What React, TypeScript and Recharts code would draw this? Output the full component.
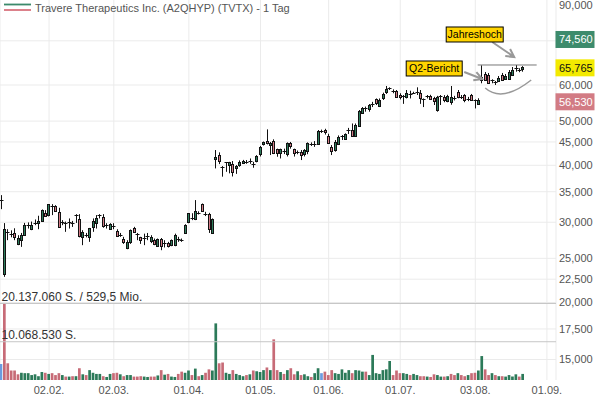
import React from 'react';
import {
  ComposedChart,
  Bar,
  Cell,
  XAxis,
  YAxis,
  CartesianGrid,
  ReferenceLine,
  ReferenceDot,
} from 'recharts';

// Tageskerzen ab 12.01. (Handelstage), Kurse in Punkten
const opens = [
  33550, 23120, 28500, 28300, 28420, 26880, 27440, 28100, 29540, 29100,
  29830, 29900, 30110, 31460, 31000, 32580, 32600, 31620, 29980, 29870,
  29930, 29830, 31000, 30430, 27870, 28120, 27870, 29310, 29850, 31030,
  30740, 29520, 29000, 29380, 28700, 28150, 27630, 26410, 27070, 29200,
  28180, 27790, 27610, 27940, 27300, 27400, 26720, 27630, 27000, 27070,
  26720, 26720, 27460, 27380, 28350, 29950, 30400, 30480, 31440, 32870,
  31180, 31250, 28350, 41140, 42120, 39600, 40300, 40040, 40220, 39450,
  40040, 40500, 40710, 40850, 40180, 40730, 42330, 44380, 45300, 44400,
  45300, 43350, 42500, 42940, 42330, 44680, 43350, 42680, 42850, 42330,
  42850, 44480, 44480, 44680, 47580, 47700, 46300, 43940, 43200, 44520,
  46300, 45700, 47650, 47790, 46350, 48770, 52310, 53230, 53100, 54480,
  55780, 54000, 56100, 57720, 58980, 58320, 58300, 57040, 56780, 56400,
  57330, 57700, 57970, 57550, 55760, 56780, 56800, 56060, 53000, 56580,
  56400, 55300, 55120, 56090, 57980, 56380, 57040, 55880, 57040, 55700,
  54500, 61530, 63430, 63110, 61350, 60900, 61230, 63110, 61750, 62060,
  63110, 65400, 64700, 64950,
];
const highs = [
  34400, 29870, 28960, 28800, 29100, 28100, 28420, 29900, 29970, 30100,
  30420, 31000, 32000, 31890, 32870, 32870, 32700, 32270, 30320, 30100,
  30580, 30200, 31250, 31250, 28820, 28420, 29150, 30580, 31100, 31250,
  31250, 29850, 29850, 29850, 28960, 28420, 27870, 27400, 28920, 29310,
  28420, 27870, 28320, 28420, 28100, 27630, 27630, 27700, 27400, 27170,
  27500, 28320, 27870, 27630, 29700, 31400, 31400, 33550, 31700, 32980,
  31620, 31460, 30580, 43200, 42700, 39840, 40600, 40700, 40870, 40040,
  41000, 41100, 41070, 41400, 40700, 42100, 44100, 45100, 47950, 45000,
  45600, 43500, 43500, 43500, 44900, 45000, 43500, 43100, 43200, 43400,
  44900, 44900, 45200, 47800, 47900, 48100, 46900, 44300, 45440, 46510,
  46600, 47000, 48310, 49400, 49400, 52880, 53670, 53800, 54500, 55100,
  56060, 56060, 57720, 59700, 59300, 58700, 58500, 57550, 57040, 58500,
  58300, 57990, 59300, 58500, 56060, 57040, 57100, 56530, 56800, 57040,
  57000, 57100, 59700, 56800, 58500, 57040, 57300, 56500, 57350, 55800,
  56110, 66290, 64080, 63760, 61750, 61230, 62780, 63760, 63430, 64720,
  65700, 66380, 65300, 66000,
];
const lows = [
  32050, 22770, 27400, 27800, 27400, 26720, 26490, 28050, 29060, 28820,
  29560, 28960, 30050, 30900, 30900, 31100, 31620, 29180, 29560, 28580,
  29060, 29300, 29900, 27790, 26720, 27790, 27170, 28580, 29060, 30580,
  29180, 29060, 28900, 28960, 27870, 27870, 26890, 26180, 26890, 28420,
  27400, 26890, 26720, 27400, 27000, 26720, 26580, 26050, 26410, 26410,
  26580, 26580, 27170, 27170, 28280, 29850, 30320, 30320, 31200, 31620,
  30950, 28420, 28280, 39370, 40240, 37760, 38700, 38400, 37800, 38300,
  39700, 40300, 40300, 40300, 39500, 40600, 41820, 44200, 44440, 42120,
  42330, 41760, 41400, 42330, 41820, 43500, 41800, 42300, 41070, 41820,
  42300, 44100, 43900, 44400, 47100, 46700, 44600, 42120, 42850, 44300,
  45440, 45510, 46860, 46340, 46300, 48600, 52160, 52430, 52430, 53670,
  54230, 53670, 55620, 57350, 58500, 57550, 56400, 55780, 54550, 56060,
  56060, 57350, 57040, 54550, 53670, 56060, 55900, 54230, 52430, 54230,
  55000, 55000, 54310, 55500, 56110, 55900, 55000, 55300, 55340, 53300,
  54310, 60520, 61230, 60520, 60520, 60000, 60920, 61230, 61530, 61840,
  62780, 64170, 64000, 64170,
];
const closes = [
  33500, 28960, 28550, 28250, 27790, 27640, 28100, 29560, 29580, 29630,
  29870, 30220, 31890, 30950, 32830, 32620, 31780, 29310, 30020, 29830,
  29970, 29870, 31100, 27870, 28580, 28080, 29150, 30170, 30580, 31070,
  29310, 29480, 29680, 29420, 28050, 28190, 27170, 27200, 28820, 28580,
  28220, 27400, 27650, 27980, 27870, 26890, 27630, 26720, 27040, 26620,
  27400, 28100, 27500, 27420, 29560, 31370, 30600, 31780, 31480, 31780,
  31220, 28920, 30430, 41610, 40770, 39560, 40600, 40620, 38710, 39900,
  40730, 40900, 40750, 40890, 40220, 41820, 43920, 44900, 44800, 44850,
  42600, 42550, 43350, 42980, 44680, 43920, 42500, 42720, 42120, 43200,
  44680, 44520, 44560, 47600, 47600, 47200, 44800, 43000, 45070, 46190,
  46340, 46860, 47700, 46350, 49020, 52620, 53520, 53290, 54230, 54520,
  54660, 55620, 57350, 58700, 59020, 58280, 56600, 56400, 56820, 57550,
  57370, 57740, 58010, 56060, 55800, 56820, 56060, 55120, 56530, 56620,
  55500, 56700, 56530, 56130, 56530, 56420, 55620, 55920, 55620, 55500,
  55620, 62380, 61530, 60700, 61410, 60940, 62310, 61530, 62780, 64190,
  64720, 65440, 64740, 65765,
];
// Volumen in Mio. Stück
const volumes = [
  4.2, 20.137, 4.4, 2.5, 2.5, 1.5, 1.9, 1.8, 1.8, 1.3,
  1.5, 1.0, 2.1, 1.9, 1.6, 1.8, 1.3, 1.8, 1.3, 0.9,
  0.9, 1.0, 1.0, 3.1, 1.5, 1.3, 2.6, 1.9, 1.6, 1.6,
  1.0, 0.8, 1.6, 1.8, 1.9, 1.5, 1.0, 1.3, 1.3, 0.9,
  0.9, 1.0, 0.9, 0.8, 0.9, 0.9, 1.2, 2.6, 1.4, 1.6,
  0.9, 0.8, 1.6, 2.2, 1.9, 2.5, 1.3, 3.0, 1.0, 1.3,
  1.9, 2.8, 2.5, 14.9, 4.4, 4.6, 1.9, 1.6, 2.6, 1.6,
  1.3, 1.0, 1.3, 1.5, 2.5, 2.3, 2.1, 2.6, 3.3, 2.6,
  10.7, 2.6, 2.1, 1.6, 2.6, 3.1, 1.5, 2.3, 1.3, 1.5,
  1.0, 0.8, 1.8, 3.1, 1.8, 2.2, 1.3, 2.6, 1.8, 1.6,
  2.8, 1.9, 2.6, 1.8, 2.6, 2.5, 2.2, 2.2, 1.3, 6.6,
  1.8, 1.6, 2.6, 2.8, 5.0, 1.3, 2.5, 1.8, 1.8, 1.6,
  1.3, 1.6, 1.3, 1.0, 1.0, 0.9, 0.8, 1.5, 1.3, 0.9,
  0.9, 1.0, 1.6, 1.3, 1.8, 1.3, 1.0, 1.3, 1.8, 1.9,
  2.5, 6.3, 2.8, 1.3, 1.8, 1.3, 1.0, 1.0, 0.9, 1.3,
  0.9, 1.5, 0.9, 1.6,
];

const tickSlots = [14, 33, 55, 76, 96, 117, 139, 160];
const tickLabels = ['02.02.', '02.03.', '01.04.', '01.05.', '01.06.', '01.07.', '03.08.', '01.09.'];
const priceTicks = [15000, 17500, 20000, 22500, 25000, 30000, 35000, 40000, 45000, 50000, 60000, 75000, 90000];
const gridPrices = [15000, 17500, 20000, 22500, 25000, 30000, 35000, 40000, 45000, 50000, 60000, 75000];

const volMaxLabel = '20.137.060 S. / 529,5 Mio.';
const volHalfLabel = '10.068.530 S.';
const volMax = 20.13706;
const volHalf = 10.06853;

const lastPrice = 65765;
const highTag = 74560;
const lowTag = 56530;
const yearHigh = 66380;

const GREEN = '#2e7d5c';
const RED = '#d47c87';
const VOL_GREEN = '#2c7a59';
const VOL_RED = '#c76b77';
const BLUE = '#6b9be0';
const FONT = '"Liberation Sans", Arial, sans-serif';

const data = opens.map((o, i) => ({
  i,
  open: o,
  high: highs[i],
  low: lows[i],
  close: closes[i],
  range: [lows[i], highs[i]],
  vol: volumes[i],
}));

const volColor = (i: number) => {
  if (i === 0) return BLUE;
  const d = closes[i] - closes[i - 1];
  return d > 0 ? VOL_GREEN : d < 0 ? VOL_RED : BLUE;
};

const Candle = (props: any) => {
  let { x, y, width, height } = props;
  const p = props.payload;
  if (x == null || !p) return null;
  if (height < 0) {
    y += height;
    height = -height;
  }
  const span = Math.log(p.high) - Math.log(p.low);
  const py = (v: number) => (span > 0 ? y + (height * (Math.log(p.high) - Math.log(v))) / span : y);
  const cx = Math.floor(x + width / 2) + 0.5;
  const yo = py(p.open);
  const yc = py(p.close);
  const top = Math.min(yo, yc);
  const bot = Math.max(yo, yc);
  const up = p.close >= p.open;
  return (
    <g>
      <line x1={cx} x2={cx} y1={y} y2={y + height} stroke="#111" strokeWidth={1} />
      {bot - top < 1.5 ? (
        <line x1={cx - 2} x2={cx + 2} y1={Math.round(top) + 0.5} y2={Math.round(top) + 0.5} stroke="#111" strokeWidth={1} />
      ) : (
        <rect x={cx - 1} y={Math.round(top) + 0.5} width={2} height={Math.round(bot - top)} fill={up ? GREEN : RED} stroke="#111" strokeWidth={1} />
      )}
    </g>
  );
};

const volLabel = (text: string) => (props: any) => {
  const vb = props.viewBox || {};
  return (
    <text x={(vb.x || 0) + 1.5} y={(vb.y || 0) - 2.3} fontSize={12} fill="#333" fontFamily={FONT}>
      {text}
    </text>
  );
};

const priceTag = (text: string, bg: string, fg: string, dy: number) => (props: any) => {
  const vb = props.viewBox || {};
  const right = (vb.x || 0) + (vb.width || 0);
  const top = (vb.y || 0) + dy - 8.5;
  return (
    <g>
      <rect x={right - 0.5} y={top} width={39} height={17} fill={bg} />
      <text x={right + 3} y={top + 12.5} fontSize={11} fill={fg} fontFamily={FONT}>
        {text}
      </text>
    </g>
  );
};

const arrow = (x1: number, y1: number, x2: number, y2: number) => {
  const a = Math.atan2(y2 - y1, x2 - x1);
  const len = 9;
  const w = 0.5;
  return `M${x1},${y1} L${x2},${y2} M${x2 - len * Math.cos(a - w)},${y2 - len * Math.sin(a - w)} L${x2},${y2} L${x2 - len * Math.cos(a + w)},${y2 - len * Math.sin(a + w)}`;
};

// Notizen, verankert am Jahreshoch
const Notes = (props: any) => {
  const ax = props.cx;
  const ay = props.cy;
  if (ax == null) return null;
  return (
    <g fontFamily={FONT}>
      <path d={arrow(ax - 24, ay - 23, ax - 2, ay - 8)} stroke="#999" strokeWidth={2} fill="none" />
      <path d={arrow(ax - 52, ay + 7, ax - 34, ay + 14)} stroke="#999" strokeWidth={2} fill="none" />
      <path d={`M${ax - 31},${ay + 23} Q${ax - 14},${ay + 38} ${ax + 15},${ay + 15}`} stroke="#999" strokeWidth={1.5} fill="none" />
      <rect x={ax - 70} y={ay - 38} width={57} height={15} fill="#ffd400" stroke="#000" strokeWidth={1} />
      <text x={ax - 41.5} y={ay - 27} fontSize={10.5} textAnchor="middle" fill="#000">Jahreshoch</text>
      <rect x={ax - 110} y={ay - 4} width={56} height={15} fill="#ffd400" stroke="#000" strokeWidth={1} />
      <text x={ax - 82} y={ay + 7.5} fontSize={10.5} textAnchor="middle" fill="#000">Q2-Bericht</text>
    </g>
  );
};

export default function App() {
  return (
    <div style={{ position: 'absolute', left: 0, top: 0, width: 599, height: 400, background: '#fff', fontFamily: FONT }}>
      <ComposedChart width={599} height={400} data={data} margin={{ top: 0, right: 0, bottom: 0, left: 0 }}>
        <CartesianGrid xAxisId="p" yAxisId="price" stroke="#ebebeb" horizontalValues={gridPrices} />
        <XAxis
          xAxisId="p"
          type="number"
          dataKey="i"
          domain={[-0.38, 162.67]}
          allowDataOverflow
          ticks={tickSlots}
          interval={0}
          tickFormatter={(v: number) => tickLabels[tickSlots.indexOf(v)] ?? ''}
          axisLine={false}
          tickLine={false}
          tickSize={4}
          tickMargin={2}
          height={20}
          tick={{ fill: '#555', fontSize: 11 }}
        />
        <XAxis xAxisId="v" type="number" dataKey="i" domain={[-0.38, 162.67]} allowDataOverflow hide />
        <YAxis
          yAxisId="price"
          orientation="right"
          scale="log"
          domain={[13523, 92170]}
          allowDataOverflow
          ticks={priceTicks}
          interval={0}
          tickFormatter={(v: number) => (v === 75000 ? '' : v.toLocaleString('en-US'))}
          axisLine={false}
          tickLine={false}
          tickSize={3}
          tickMargin={0}
          width={43}
          tick={{ fill: '#555', fontSize: 11, textAnchor: 'start' }}
        />
        <YAxis yAxisId="vol" domain={[0, 100]} allowDataOverflow hide />

        <ReferenceLine xAxisId="v" yAxisId="vol" y={volMax} stroke="#c6c6c6" label={volLabel(volMaxLabel)} />
        <ReferenceLine xAxisId="v" yAxisId="vol" y={volHalf} stroke="#c6c6c6" label={volLabel(volHalfLabel)} />

        <Bar xAxisId="v" yAxisId="vol" dataKey="vol" barSize={2.7} isAnimationActive={false}>
          {data.map((d) => (
            <Cell key={d.i} fill={volColor(d.i)} />
          ))}
        </Bar>
        <Bar
          xAxisId="p"
          yAxisId="price"
          dataKey="range"
          barSize={3}
          isAnimationActive={false}
          shape={(p: any) => <Candle {...p} />}
        />

        <ReferenceLine
          xAxisId="p"
          yAxisId="price"
          segment={[{ x: 139.7, y: yearHigh }, { x: 157, y: yearHigh }]}
          stroke="#777"
        />
        <ReferenceDot xAxisId="p" yAxisId="price" x={151} y={yearHigh} r={0} ifOverflow="visible" shape={(p: any) => <Notes {...p} />} />

        <ReferenceLine xAxisId="p" yAxisId="price" y={highTag} stroke="none" label={priceTag('74,560', '#3d8b6c', '#fff', -2.5)} />
        <ReferenceLine xAxisId="p" yAxisId="price" y={lastPrice} stroke="none" label={priceTag('65,765', '#f3ea00', '#111', 1)} />
        <ReferenceLine xAxisId="p" yAxisId="price" y={lowTag} stroke="none" label={priceTag('56,530', '#d27b84', '#fff', 5)} />
      </ComposedChart>

      <svg style={{ position: 'absolute', left: 0, top: 0 }} width={34} height={14}>
        <line x1={4} x2={31} y1={4.5} y2={4.5} stroke="#3b8a6b" strokeWidth={1.8} />
        <line x1={4} x2={31} y1={10} y2={10} stroke="#d9737e" strokeWidth={1.8} />
      </svg>
      <div style={{ position: 'absolute', left: 35, top: 1, fontSize: 11, lineHeight: '14px', color: '#555', whiteSpace: 'nowrap' }}>
        Travere Therapeutics Inc. (A2QHYP) (TVTX) - 1 Tag
      </div>
    </div>
  );
}
